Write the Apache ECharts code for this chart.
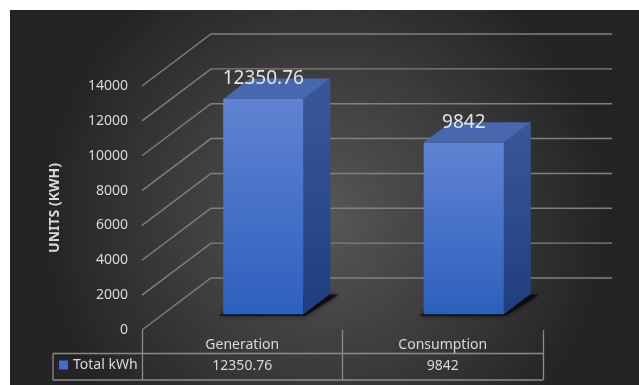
<!DOCTYPE html>
<html><head><meta charset="utf-8">
<script src="https://cdn.jsdelivr.net/npm/echarts@6/dist/echarts.min.js"></script>
<style>html,body{margin:0;padding:0;background:#fff;}#c{width:639px;height:385px;}</style>
</head><body><div id="c"></div>
<script>
// ---- data ----
const categories = ['Generation', 'Consumption'];
const totalKWh = [12350.76, 9842];
const yTicks = [0, 2000, 4000, 6000, 8000, 10000, 12000, 14000];
const seriesName = 'Total kWh';
const axisTitle = 'UNITS (KWH)';

// ---- style / layout ----
const W = 639, H = 385;
const DEPTH = [69, -52];
const BAR_DEPTH_RATIO = 0.39;
const BAR_WIDTH_RATIO = 0.4;
const GRID = { left: 142, right: 96, top: 86, bottom: 55 };
const TEXT = '#d9d9d9';
const FONT = '"Noto Sans", sans-serif';
const LINE = '#8c8c8c';
const gridRightX = W - GRID.right;
const axisY = H - GRID.bottom;
const TABLE_LEFT = 53, ROW_SPLIT = axisY + 23.5, TABLE_BOTTOM = axisY + 50;

function gridLines(params, api) {
  const cs = params.coordSys;
  const y = api.coord([0, api.value(1)])[1];
  const x0 = cs.x, x1 = cs.x + cs.width;
  return {
    type: 'polyline', silent: true,
    shape: { points: [[x0, y], [x0 + DEPTH[0], y + DEPTH[1]], [x1 + DEPTH[0], y + DEPTH[1]]] },
    style: { stroke: '#808080', lineWidth: 1.4, fill: null }
  };
}

function bar3d(params, api) {
  const idx = api.value(0), val = api.value(1);
  const top = api.coord([idx, val]);
  const base = api.coord([idx, 0]);
  const band = api.size([1, 0])[0];
  const bw = band * BAR_WIDTH_RATIO;
  const ddx = DEPTH[0] * BAR_DEPTH_RATIO, ddy = DEPTH[1] * BAR_DEPTH_RATIO;
  const ox = DEPTH[0] * (1 - BAR_DEPTH_RATIO) / 2, oy = DEPTH[1] * (1 - BAR_DEPTH_RATIO) / 2;
  const fx = top[0] + ox - bw / 2, fy = top[1] + oy, by = base[1] + oy;
  return {
    type: 'group',
    children: [
      { type: 'polygon', silent: true,
        shape: { points: [[fx - 4, by + 1.5], [fx + bw + 2, by + 1.5], [fx + bw + ddx + 8, by + ddy + 1], [fx + ddx, by + ddy]] },
        style: { fill: 'rgba(10,10,10,0.85)', shadowBlur: 5, shadowColor: 'rgba(0,0,0,0.8)' } },
      { type: 'rect', shape: { x: fx, y: fy, width: bw, height: by - fy },
        style: { fill: { type: 'linear', x: 0, y: 0, x2: 0, y2: 1, colorStops: [
          { offset: 0, color: '#6083d2' }, { offset: 1, color: '#2d60be' }] } } },
      { type: 'polygon', shape: { points: [[fx + bw, fy], [fx + bw + ddx, fy + ddy], [fx + bw + ddx, by + ddy], [fx + bw, by]] },
        style: { fill: { type: 'linear', x: 0, y: 0, x2: 0, y2: 1, colorStops: [
          { offset: 0, color: '#3a5899' }, { offset: 1, color: '#1f3e80' }] } } },
      { type: 'polygon', shape: { points: [[fx, fy], [fx + ddx, fy + ddy], [fx + bw + ddx, fy + ddy], [fx + bw, fy]] },
        style: { fill: '#4767ae' } },
      { type: 'text', x: fx + bw / 2, y: fy - 20,
        style: { text: String(val), fill: '#e4e4e4', font: '19px ' + FONT, align: 'center', verticalAlign: 'middle' } }
    ]
  };
}

const chart = echarts.init(document.getElementById('c'), null, { renderer: 'canvas' });
chart.setOption({
  animation: false,
  backgroundColor: 'transparent',
  graphic: [
    { type: 'rect', z: -100, silent: true, shape: { x: 10, y: 10, width: W - 10, height: H - 10 },
      style: { fill: { type: 'radial', x: 0.5, y: 0.55, r: 0.75, colorStops: [
        { offset: 0, color: '#575757' }, { offset: 1, color: '#242424' }] } } },
    { type: 'line', silent: true, shape: { x1: TABLE_LEFT, y1: ROW_SPLIT, x2: gridRightX, y2: ROW_SPLIT }, style: { stroke: LINE, lineWidth: 1.3 } },
    { type: 'line', silent: true, shape: { x1: TABLE_LEFT, y1: TABLE_BOTTOM, x2: gridRightX, y2: TABLE_BOTTOM }, style: { stroke: LINE, lineWidth: 1.3 } },
    { type: 'line', silent: true, shape: { x1: TABLE_LEFT, y1: ROW_SPLIT, x2: TABLE_LEFT, y2: TABLE_BOTTOM }, style: { stroke: LINE, lineWidth: 1.3 } }
  ],
  legend: {
    data: [seriesName], left: 59, top: 358, padding: 0, icon: 'rect', itemWidth: 9, itemHeight: 9,
    textStyle: { color: TEXT, fontSize: 14, fontFamily: FONT }
  },
  grid: GRID,
  xAxis: [
    { type: 'category', data: categories, boundaryGap: true,
      axisLine: { show: false },
      axisTick: { show: true, length: 50, lineStyle: { color: LINE, width: 1.3 } },
      axisLabel: { color: TEXT, fontSize: 14, fontFamily: FONT, margin: 8 } },
    { type: 'category', data: totalKWh.map(String), position: 'bottom', offset: 23,
      axisLine: { show: false }, axisTick: { show: false },
      axisLabel: { color: TEXT, fontSize: 14, fontFamily: FONT, margin: 6 } }
  ],
  yAxis: {
    type: 'value', min: 0, max: 14000, interval: 2000,
    axisLine: { show: false }, axisTick: { show: false }, splitLine: { show: false },
    axisLabel: { color: TEXT, fontSize: 14, fontFamily: FONT, margin: 14, formatter: v => String(v) },
    name: axisTitle, nameLocation: 'middle', nameRotate: 90, nameGap: 80,
    nameTextStyle: { color: TEXT, fontSize: 14, fontWeight: 'bold', fontFamily: FONT }
  },
  series: [
    { type: 'custom', name: 'grid', z: 1, silent: true, renderItem: gridLines,
      data: yTicks.map(v => [0, v]), encode: { x: 0, y: 1 } },
    { type: 'custom', name: seriesName, z: 2, renderItem: bar3d, itemStyle: { color: '#3d6fd6' },
      data: totalKWh.map((v, i) => [i, v]), encode: { x: 0, y: 1 } }
  ]
});
</script></body></html>
